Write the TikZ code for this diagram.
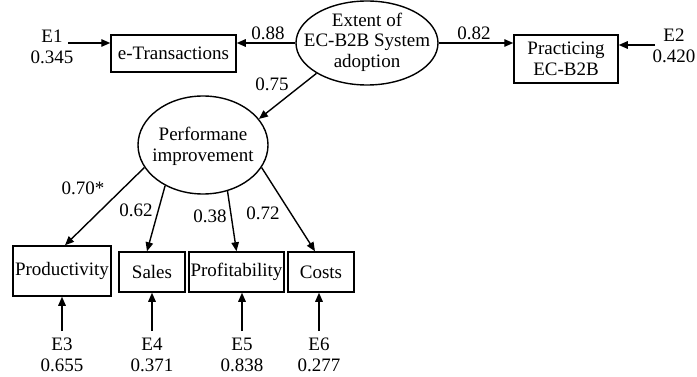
\documentclass[tikz,border=0pt]{standalone}
\usepackage{fontspec}
\setmainfont{Liberation Serif}
\usetikzlibrary{shapes.geometric,arrows.meta,calc}
\begin{document}
\begin{tikzpicture}[x=1pt,y=-1pt,
  font=\fontsize{19}{20.5}\selectfont,
  obs/.style={draw,line width=1.5pt,rectangle,inner sep=0pt,align=center},
  lat/.style={draw,line width=1.4pt,ellipse,inner sep=0pt},
  txt/.style={inner sep=0pt,align=center},
  arr/.style={line width=1.4pt,-{Triangle[length=9pt,width=7.5pt]}}
]
\useasboundingbox (0,0) rectangle (697,377);
% latent variables
\node[lat,minimum width=142pt,minimum height=84pt] (ext) at (367,43) {};
\node[txt] (extt) at ($(ext.center)+(0,-1)$) {Extent of\\EC-B2B System\\adoption};
\node[lat,minimum width=130pt,minimum height=98pt] (perf) at (203,145) {};
\node[txt] (perft) at ($(perf.center)+(0,1.5)$) {Performane\\improvement};
% observed variables
\node[obs,minimum width=125pt,minimum height=37pt] (etr) at (173.5,53.5) {e-Transactions};
\node[obs,minimum width=104pt,minimum height=48pt] (prac) at (566,59) {Practicing\\EC-B2B};
\node[obs,minimum width=98pt,minimum height=50pt] (prod) at (62,271) {Productivity};
\node[obs,minimum width=66pt,minimum height=40pt] (sales) at (152,272) {Sales};
\node[obs,minimum width=95pt,minimum height=40pt] (profit) at (236.5,272) {Profitability};
\node[obs,minimum width=66pt,minimum height=40pt] (costs) at (321,272) {Costs};
% error terms
\node[txt] (e1) at (52,47) {E1\\0.345};
\node[txt] (e2) at (674,46) {E2\\0.420};
\node[txt] (e3) at (62,355) {E3\\0.655};
\node[txt] (e4) at (152,355) {E4\\0.371};
\node[txt] (e5) at (242,355) {E5\\0.838};
\node[txt] (e6) at (319,355) {E6\\0.277};
\coordinate (e1a) at (68,43);
\coordinate (e2a) at (655,45);
\coordinate (e3a) at (62,331);
\coordinate (e4a) at (152,331);
\coordinate (e5a) at (242,331);
\coordinate (e6a) at (319,331);
\draw[arr] (e1a) -- (e1a -| etr.west);
\draw[arr] (e2a) -- (e2a -| prac.east);
\draw[arr] (e3a) -- (e3a |- prod.south);
\draw[arr] (e4a) -- (e4a |- sales.south);
\draw[arr] (e5a) -- (e5a |- profit.south);
\draw[arr] (e6a) -- (e6a |- costs.south);
% paths
\draw[arr] (ext.west) -- (ext.west -| etr.east);
\draw[arr] (ext.east) -- (ext.east -| prac.west);
\draw[arr] (ext.211) -- (perf.25);
\draw[arr] (perf.201) -- ($(prod.north)+(3,0)$);
\draw[arr] (perf.227) -- ($(sales.north)+(-5,0)$);
\draw[arr] (perf.298.5) -- (profit.north);
\draw[arr] (perf.339) -- ($(costs.north)+(-6,0)$);
% loadings
\node[txt] (l88) at (268,33) {0.88};
\node[txt] (l82) at (474,33) {0.82};
\node[txt] (l75) at (272,84) {0.75};
\node[txt] (l70) at (83,188) {0.70*};
\node[txt] (l62) at (136,210) {0.62};
\node[txt] (l38) at (210,216) {0.38};
\node[txt] (l72) at (263,213) {0.72};
\end{tikzpicture}
\end{document}
